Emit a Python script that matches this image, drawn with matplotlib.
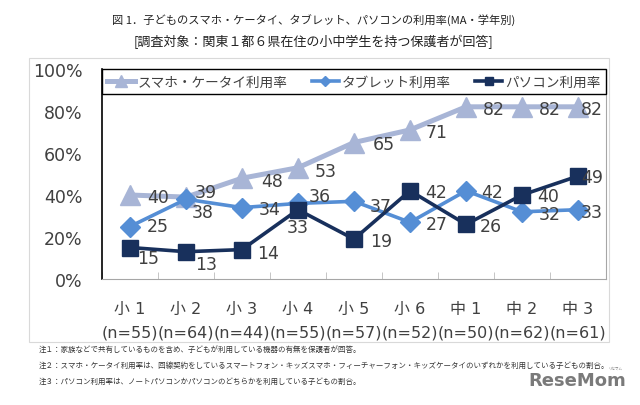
import numpy as np
import matplotlib
matplotlib.use("Agg")
import matplotlib.pyplot as plt
from matplotlib.patches import Rectangle

grades = ["小 1", "小 2", "小 3", "小 4", "小 5", "小 6", "中 1", "中 2", "中 3"]
sample_n = [55, 64, 44, 55, 57, 52, 50, 62, 61]
smartphone = [40, 39, 48, 53, 65, 71, 82, 82, 82]
tablet = [25, 38, 34, 36, 37, 27, 42, 32, 33]
pc = [15, 13, 14, 33, 19, 42, 26, 40, 49]
series_names = ["スマホ・ケータイ利用率", "タブレット利用率", "パソコン利用率"]

title1 = "図 1．子どものスマホ・ケータイ、タブレット、パソコンの利用率(MA・学年別)"
title2 = "[調査対象：関東１都６県在住の小中学生を持つ保護者が回答]"
notes = [
    "注１：家族などで共有しているものを含め、子どもが利用している機器の有無を保護者が回答。",
    "注２：スマホ・ケータイ利用率は、回線契約をしているスマートフォン・キッズスマホ・フィーチャーフォン・キッズケータイのいずれかを利用している子どもの割合。",
    "注３：パソコン利用率は、ノートパソコンかパソコンのどちらかを利用している子どもの割合。",
]

JP = ["Noto Sans CJK JP", "DejaVu Sans"]
NUM = ["DejaVu Sans", "Noto Sans CJK JP"]
plt.rcParams["font.family"] = NUM

c_phone = "#A8B5D6"
c_tab = "#558ED5"
c_pc = "#18305C"
txt = "#404040"

fig = plt.figure(figsize=(6.4, 4.06), dpi=100)
W, H = 640, 406

# outer frame of the chart area
fig.patches.append(Rectangle((29 / W, 1 - 343 / H), 580 / W, 284 / H,
                             transform=fig.transFigure, fill=False,
                             edgecolor="#D9D9D9", lw=0.8))

fig.text(0.49, 1 - 20 / H, title1, ha="center", va="center", fontsize=8.1, family=JP, color="#222222")
fig.text(0.49, 1 - 42 / H, title2, ha="center", va="center", fontsize=9.4, family=JP, color="#222222")

ax = fig.add_axes([102 / W, 1 - 280 / H, 504 / W, 210 / H])
x = np.arange(len(grades))

ax.plot(x, smartphone, color=c_phone, lw=3.6, marker="^", ms=15, label=series_names[0], zorder=3)
ax.plot(x, tablet, color=c_tab, lw=2.6, marker="D", ms=10, label=series_names[1], zorder=4)
ax.plot(x, pc, color=c_pc, lw=2.6, marker="s", ms=11, label=series_names[2], zorder=5)

# label offsets in pixels (dx, dy) relative to marker
off_phone = [(28, -2), (20, 5), (30, -3), (28, -3), (30, -2), (27, -2), (28, -2), (28, -2), (14, -2)]
off_tab = [(28, 0), (17, -13), (28, -1), (22, 7), (27, -5), (27, -2), (26, -1), (28, -2), (14, -2)]
off_pc = [(18, -10), (20, -12), (26, -3), (0, -17), (27, -2), (26, -1), (25, -2), (26, -1), (14, -1)]

for vals, offs in [(smartphone, off_phone), (tablet, off_tab), (pc, off_pc)]:
    for xi, v, (dx, dy) in zip(x, vals, offs):
        ax.annotate(str(v), (xi, v), xytext=(dx, dy), textcoords="offset pixels",
                    ha="center", va="center", fontsize=12.5, color=txt, zorder=6)

ax.set_xlim(-0.5, len(grades) - 0.5)
ax.set_ylim(0, 100)
ax.set_yticks(np.arange(0, 101, 20))
ax.set_yticklabels([f"{t}%" for t in range(0, 101, 20)], fontsize=12.5, color=txt)
ax.tick_params(axis="y", length=0, pad=14)

ax.set_xticks(x)
ax.set_xticklabels([f"{g}\n({'n='}{n})" for g, n in zip(grades, sample_n)],
                   fontsize=11.5, color=txt, linespacing=1.7)
ax.tick_params(axis="x", which="major", length=0, pad=16)
ax.set_xticks(np.arange(-0.5, len(grades), 1), minor=True)
ax.tick_params(axis="x", which="minor", direction="in", length=5, color="#BBBBBB")

ax.spines["top"].set_visible(False)
ax.spines["left"].set_color("black")
ax.spines["left"].set_linewidth(1.2)
ax.spines["bottom"].set_color("#A6A6A6")
ax.spines["right"].set_color("#A6A6A6")

leg = ax.legend(loc="upper left", bbox_to_anchor=(0, 0, 1, 1.0), mode="expand", ncol=3,
                borderaxespad=0, fancybox=False, edgecolor="black", framealpha=1,
                prop={"family": JP, "size": 9.8}, handlelength=2.0, handletextpad=0.2,
                markerscale=0.55, borderpad=0.4)
leg.get_frame().set_linewidth(1.0)
for t in leg.get_texts():
    t.set_color(txt)

for i, note in enumerate(notes):
    fig.text(39 / W, 1 - (350 + 16 * i) / H, note, ha="left", va="center",
             fontsize=5.4, family=JP, color="#333333")

fig.text(626 / W, 1 - 381 / H, "ReseMom", ha="right", va="center", fontsize=13,
         fontweight="bold", color="#7A7A7A")
fig.text(622 / W, 1 - 369 / H, "リセマム", ha="right", va="center", fontsize=2.5,
         family=JP, color="#7A7A7A")

fig.savefig("out.png", dpi=100)
